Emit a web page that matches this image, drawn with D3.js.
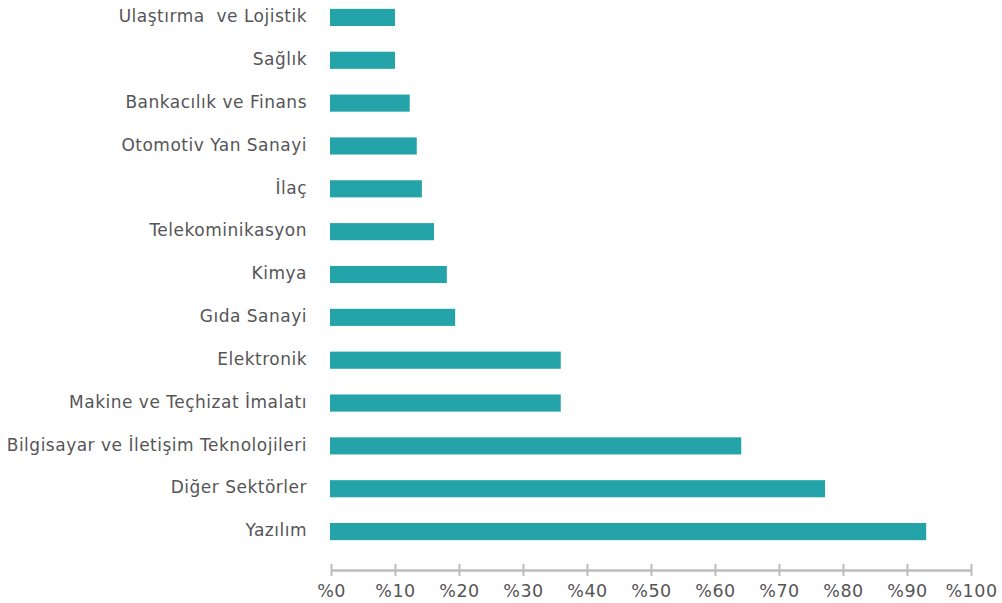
<!DOCTYPE html>
<html>
<head>
<meta charset="utf-8">
<script src="https://cdn.jsdelivr.net/npm/d3@7"></script>
<style>
  body { margin: 0; background: #fff; }
  svg text { font-family: "DejaVu Sans", "Noto Sans", sans-serif; fill: #555557; white-space: pre; }
</style>
</head>
<body>
<svg id="chart"></svg>
<script>
// sectors, top to bottom
const sectors = [
  'Ulaştırma  ve Lojistik',
  'Sağlık',
  'Bankacılık ve Finans',
  'Otomotiv Yan Sanayi',
  'İlaç',
  'Telekominikasyon',
  'Kimya',
  'Gıda Sanayi',
  'Elektronik',
  'Makine ve Teçhizat İmalatı',
  'Bilgisayar ve İletişim Teknolojileri',
  'Diğer Sektörler',
  'Yazılım'
];
const shares = [10, 10, 12.3, 13.4, 14.2, 16.1, 18.1, 19.4, 35.9, 35.9, 64.1, 77.2, 93.0];
const tickValues = [0, 10, 20, 30, 40, 50, 60, 70, 80, 90, 100];

const W = 1002, H = 603;
const svg = d3.select('#chart').attr('width', W).attr('height', H);

const x = d3.scaleLinear().domain([0, 100]).range([331, 971]);
const y = d3.scaleBand()
  .domain(sectors)
  .range([-4, 553])
  .paddingInner(0.6)
  .paddingOuter(0.3);

// bars
svg.append('g')
  .selectAll('rect')
  .data(sectors)
  .join('rect')
  .attr('x', x(0) - 1)
  .attr('y', d => y(d))
  .attr('width', (d, i) => x(shares[i]) - x(0) + 1)
  .attr('height', y.bandwidth())
  .attr('fill', '#24a4a8');

// category labels
svg.append('g')
  .selectAll('text')
  .data(sectors)
  .join('text')
  .attr('x', 307)
  .attr('y', d => y(d) + y.bandwidth() / 2)
  .attr('dy', '0.28em')
  .attr('text-anchor', 'end')
  .style('font-size', '17px')
  .style('letter-spacing', '0.5px')
  .text(d => d);

// x axis
const xAxis = d3.axisBottom(x)
  .tickValues(tickValues)
  .tickFormat(d => '%' + d)
  .tickSize(6)
  .tickSizeOuter(0);

const ax = svg.append('g')
  .attr('transform', 'translate(0,570)')
  .call(xAxis);

ax.select('.domain').attr('stroke', '#bdbdbd').attr('stroke-width', 2.5);
ax.selectAll('.tick line')
  .attr('stroke', '#bdbdbd')
  .attr('stroke-width', 2)
  .attr('y1', -6)
  .attr('y2', 6);
ax.selectAll('.tick text')
  .attr('y', 15)
  .attr('dy', '0.71em')
  .style('font-size', '17.5px')
  .style('letter-spacing', '0.5px')
  .attr('fill', '#555557');
</script>
</body>
</html>
